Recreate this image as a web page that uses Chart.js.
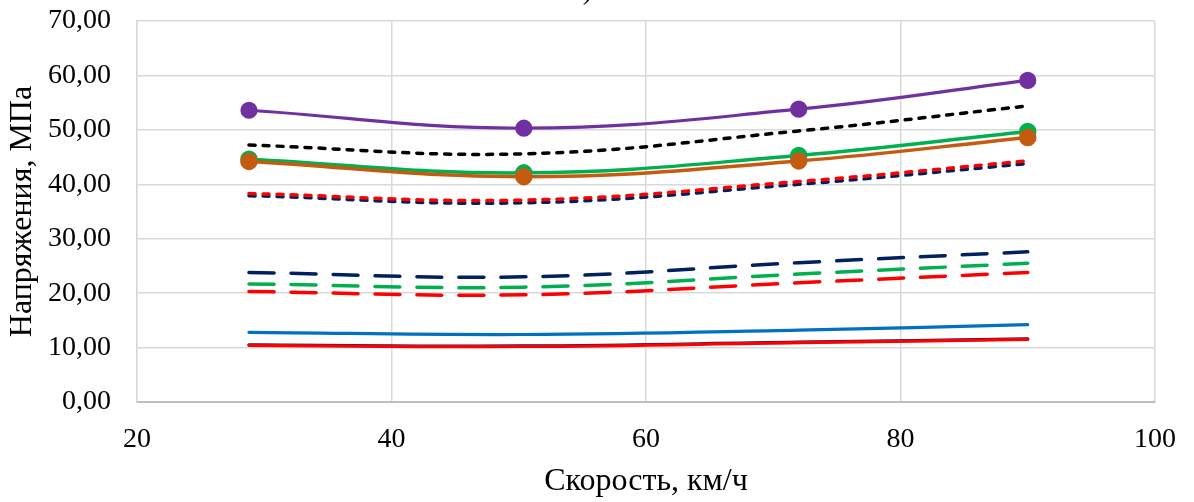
<!DOCTYPE html>
<html>
<head>
<meta charset="utf-8">
<script src="https://cdn.jsdelivr.net/npm/chart.js@4"></script>
<style>
  html, body { margin: 0; padding: 0; background: #fff; }
  #wrap { width: 1194px; height: 502px; }
</style>
</head>
<body>
<div id="wrap"><canvas id="stressChart" width="1194" height="502"></canvas></div>
<script>
// скорость, км/ч
const speeds = [28.8, 50.4, 72, 90];

// напряжения, МПа
const purpleMarked = [53.6, 50.3, 53.8, 59.1];
const blackShort   = [47.2, 45.6, 49.8, 54.4];
const greenMarked  = [44.6, 42.1, 45.3, 49.7];
const orangeMarked = [44.2, 41.4, 44.3, 48.6];
const redShort     = [38.3, 37.1, 40.5, 44.3];
const navyShort    = [37.9, 36.6, 40.0, 43.8];
const navyLong     = [23.8, 23.0, 25.6, 27.6];
const greenLong    = [21.7, 21.1, 23.5, 25.5];
const redLong      = [20.3, 19.7, 21.9, 23.8];
const blueSolid    = [12.8, 12.4, 13.2, 14.2];
const navySolid    = [10.5, 10.3, 11.0, 11.6];
const redSolid     = [10.4, 10.2, 10.9, 11.5];

const yTicks = [0, 10, 20, 30, 40, 50, 60, 70];
const xTicks = [20, 40, 60, 80, 100];

const FONT = "'Liberation Serif', 'Times New Roman', serif";

function pts(values) {
    return values.map((v, i) => ({ x: speeds[i], y: v }));
}

function series(values, color, opts) {
    return Object.assign({
        data: pts(values),
        borderColor: color,
        backgroundColor: color,
        borderWidth: 3.2,
        borderCapStyle: 'round',
        pointRadius: 0,
        tension: 0.4,
        fill: false
    }, opts || {});
}

const SHORT = [6, 8];
const LONG = [25, 17];

// первый набор рисуется поверх остальных
const datasets = [
    series(purpleMarked, '#7030A0', { pointRadius: 7 }),
    series(blackShort, '#000000', { borderDash: SHORT, borderWidth: 3.5 }),
    series(orangeMarked, '#C55A11', { pointRadius: 7, borderWidth: 3.5 }),
    series(greenMarked, '#00B050', { pointRadius: 7, borderWidth: 3.5 }),
    series(redShort, '#FF0000', { borderDash: SHORT, borderWidth: 3.5 }),
    series(navyShort, '#002060', { borderDash: SHORT, borderWidth: 3.5 }),
    series(navyLong, '#002060', { borderDash: LONG, borderWidth: 3.5 }),
    series(greenLong, '#00B050', { borderDash: LONG, borderWidth: 3.5 }),
    series(redLong, '#FF0000', { borderDash: LONG, borderWidth: 3.5 }),
    series(blueSolid, '#0070C0'),
    series(redSolid, '#FF0000'),
    series(navySolid, '#002060')
];

// хвост обрезанного заголовка сверху
const cutTitle = {
    id: 'cutTitle',
    afterDraw(chart) {
        const ctx = chart.ctx;
        ctx.save();
        ctx.font = '28px ' + FONT;
        ctx.fillStyle = '#000';
        ctx.textAlign = 'right';
        ctx.textBaseline = 'alphabetic';
        ctx.fillText('а)', 592, -1);
        ctx.restore();
    }
};

new Chart(document.getElementById('stressChart'), {
    type: 'line',
    data: { datasets: datasets },
    plugins: [cutTitle],
    options: {
        responsive: false,
        animation: false,
        layout: { padding: { top: 21, right: 39, left: 0, bottom: 0 } },
        plugins: {
            legend: { display: false },
            tooltip: { enabled: false }
        },
        scales: {
            x: {
                type: 'linear',
                min: 20,
                max: 100,
                afterBuildTicks: s => { s.ticks = xTicks.map(v => ({ value: v })); },
                afterFit: s => { s.height = 100; s.paddingLeft = 0; s.paddingRight = 0; },
                grid: { color: '#d9d9d9', lineWidth: 1.5, drawTicks: false },
                border: { color: '#bfbfbf', width: 2 },
                ticks: {
                    padding: 21,
                    color: '#000',
                    font: { family: FONT, size: 28 },
                    maxRotation: 0
                },
                title: {
                    display: true,
                    text: 'Скорость, км/ч',
                    color: '#000',
                    font: { family: FONT, size: 32 },
                    padding: { top: 0, bottom: 1 }
                }
            },
            y: {
                min: 0,
                max: 70,
                afterBuildTicks: s => { s.ticks = yTicks.map(v => ({ value: v })); },
                afterFit: s => { s.width = 137; s.paddingTop = 0; s.paddingBottom = 0; },
                grid: { color: '#d9d9d9', lineWidth: 1.5, drawTicks: false },
                border: { color: '#d9d9d9', width: 1.5 },
                ticks: {
                    padding: 26,
                    color: '#000',
                    font: { family: FONT, size: 28 },
                    callback: v => v.toFixed(2).replace('.', ',')
                },
                title: {
                    display: true,
                    text: 'Напряжения, МПа',
                    color: '#000',
                    font: { family: FONT, size: 32 },
                    padding: { top: 3, bottom: 0 }
                }
            }
        }
    }
});
</script>
</body>
</html>
